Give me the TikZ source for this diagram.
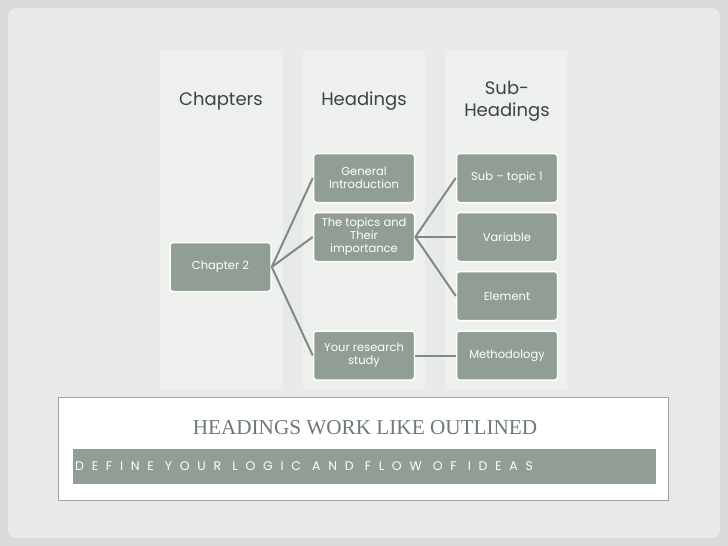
\documentclass[tikz,border=0pt]{standalone}
\usepackage{fontspec}
\setmainfont{Poppins}
\newfontfamily\serifff{Liberation Serif}
\begin{document}
\begin{tikzpicture}[x=1pt,y=-1pt,
  bx/.style={draw=white,line width=1.5pt,fill=boxc,rounded corners=3pt,minimum width=101pt,minimum height=49pt,text=white,font=\fontsize{11.5}{13}\selectfont,align=center,inner sep=1pt},
  hd/.style={text=hdc,font=\fontsize{18}{22}\selectfont,align=center},
  ln/.style={draw=linec,line width=2pt}]
\definecolor{boxc}{HTML}{909E94}
\definecolor{hdc}{HTML}{3C4440}
\definecolor{linec}{HTML}{7E8B83}
\useasboundingbox (0,0) rectangle (728,546);
\fill[fill={rgb,255:red,218;green,220;blue,218}] (0,0) rectangle (728,546);
\fill[fill={rgb,255:red,232;green,234;blue,232},rounded corners=8pt] (8,8) rectangle (720,538);
\foreach \a/\b in {160/283,303/425,445/567}
  \fill[fill={rgb,255:red,238;green,240;blue,238}] (\a,50) rectangle (\b,390);
\node[hd] (h1) at (221,101) {Chapters};
\node[hd] (h2) at (364,101) {Headings};
\node[hd] (h3) at (507,101) {Sub-\\Headings};
\node[bx] (c2) at (220.5,267) {Chapter 2};
\node[bx] (gi) at (364,178) {General\\Introduction};
\node[bx] (tp) at (364,237) {The topics and\\Their\\importance};
\node[bx] (rs) at (364,355.5) {Your research\\study};
\node[bx] (s1) at (507,178) {Sub -- topic 1};
\node[bx] (va) at (507,237) {Variable};
\node[bx] (el) at (507,296) {Element};
\node[bx] (me) at (507,355.5) {Methodology};
\foreach \t in {gi,tp,rs} \draw[ln] (c2.east) -- (\t.west);
\foreach \t in {s1,va,el} \draw[ln] (tp.east) -- (\t.west);
\draw[ln] (rs.east) -- (me.west);
\node[draw={rgb,255:red,160;green,165;blue,162},line width=0.8pt,fill=white,minimum width=610pt,minimum height=103pt,inner sep=0pt] (bb) at (363,448.5) {};
\node[text={rgb,255:red,110;green,122;blue,116},font=\serifff\fontsize{21.2}{21}\selectfont] (tt) at (365,428) {HEADINGS WORK LIKE OUTLINED};
\node[fill=boxc,minimum width=583pt,minimum height=35pt,inner sep=0pt] (bar) at (364.5,466.5) {};
\node[text=white,font=\fontsize{12.5}{13}\selectfont,anchor=west,inner sep=0pt] (st) at (75,466.5) {\addfontfeature{LetterSpace=62}DEFINE YOUR LOGIC AND FLOW OF IDEAS};
\end{tikzpicture}
\end{document}
